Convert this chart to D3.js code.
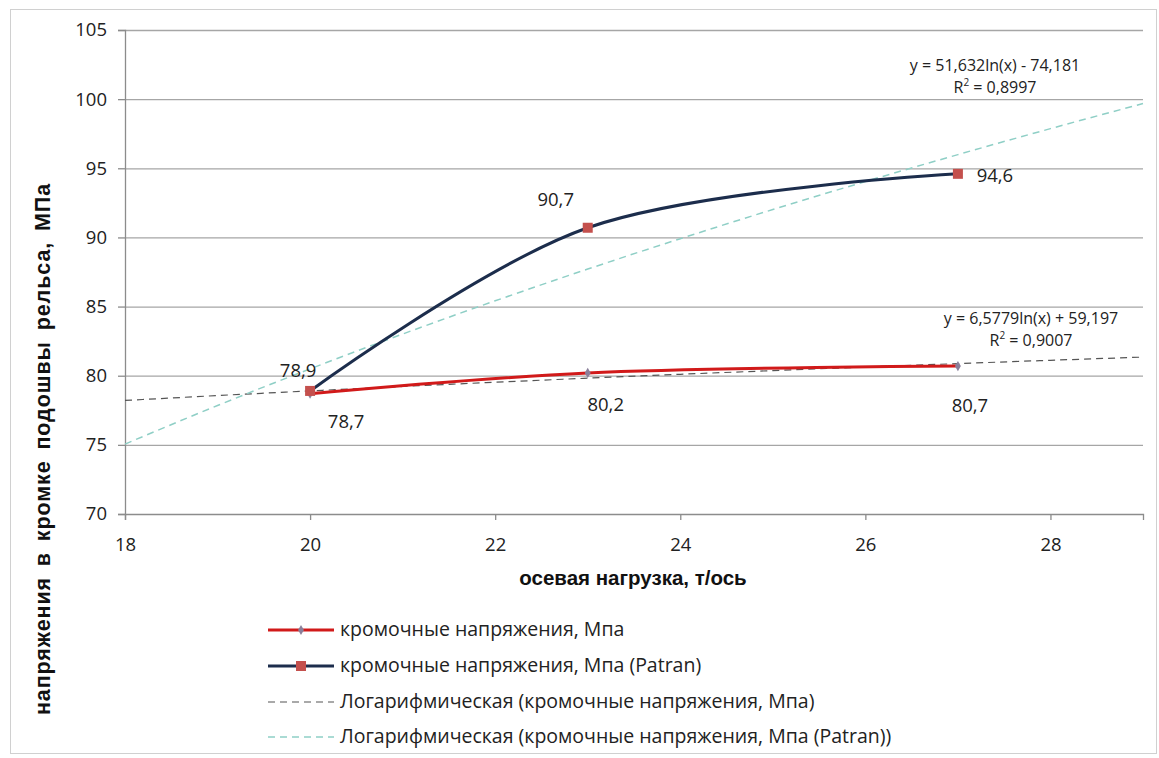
<!DOCTYPE html>
<html><head><meta charset="utf-8">
<script src="https://cdn.jsdelivr.net/npm/d3@7"></script>
<style>body{margin:0;background:#fff}svg{display:block}</style>
</head><body><svg id="c" width="1159" height="758"></svg>
<script>
const loads = [20, 23, 27];
const edgeStress = [78.7, 80.2, 80.7];
const edgeStressPatran = [78.9, 90.7, 94.6];
const xTicks = [18, 20, 22, 24, 26, 28];
const yTicks = [70, 75, 80, 85, 90, 95, 100, 105];
const trendX = [18, 19, 20, 21, 22, 23, 24, 25, 26, 27, 28, 29];
const trend1 = {a: 6.5779, b: 59.197};
const trend2 = {a: 51.632, b: -74.181};
const eq1 = ["y = 6,5779ln(x) + 59,197", "R² = 0,9007"];
const eq2 = ["y = 51,632ln(x) - 74,181", "R² = 0,8997"];
const legendLabels = ["кромочные напряжения, Мпа", "кромочные напряжения, Мпа (Patran)",
  "Логарифмическая (кромочные напряжения, Мпа)", "Логарифмическая (кромочные напряжения, Мпа (Patran))"];

const svg = d3.select("#c");
const font = "'Open Sans', 'Noto Sans', sans-serif";
svg.append("rect").attr("x",10.5).attr("y",9.5).attr("width",1146).attr("height",744)
  .attr("fill","#fff").attr("stroke","#d0d0d0");

const x = d3.scaleLinear().domain([18, 29]).range([125, 1143]);
const y = d3.scaleLinear().domain([70, 105]).range([514, 30]);

// grid
svg.append("g").selectAll("line").data(yTicks.filter(d=>d>70)).join("line")
  .attr("x1", x(18)).attr("x2", x(29)).attr("y1", d=>y(d)+0.5).attr("y2", d=>y(d)+0.5)
  .attr("stroke","#a6a6a6").attr("stroke-width",1.3);

const gy = svg.append("g").attr("transform",`translate(${x(18)},0)`)
  .call(d3.axisLeft(y).tickValues(yTicks).tickSize(7).tickPadding(11));
const gx = svg.append("g").attr("transform",`translate(0,${y(70)})`)
  .call(d3.axisBottom(x).tickValues(xTicks).tickSize(6).tickPadding(18));
[gx, gy].forEach(g=>{
  g.selectAll("path,line").attr("stroke","#8c8c8c").attr("stroke-width",1.3);
  g.selectAll("text").attr("font-family",font).attr("font-size",18.5).attr("fill","#222");
});

// trendlines
const tl = (c)=> d3.line().x(d=>x(d)).y(d=>y(c.a*Math.log(d)+c.b)).curve(d3.curveMonotoneX);
svg.append("path").attr("d", tl(trend1)(trendX)).attr("fill","none")
  .attr("stroke","#555").attr("stroke-width",1.2).attr("stroke-dasharray","7,5");
svg.append("path").attr("d", tl(trend2)(trendX)).attr("fill","none")
  .attr("stroke","#8fcfc6").attr("stroke-width",1.5).attr("stroke-dasharray","7,5");

// series
const line = d3.line().x(d=>x(d[0])).y(d=>y(d[1])).curve(d3.curveCatmullRom.alpha(0.5));
const s1 = loads.map((l,i)=>[l, edgeStress[i]]);
const s2 = loads.map((l,i)=>[l, edgeStressPatran[i]]);
svg.append("path").attr("d", line(s2)).attr("fill","none").attr("stroke","#1c2d4c").attr("stroke-width",3);
svg.append("path").attr("d", line(s1)).attr("fill","none").attr("stroke","#d11a1a").attr("stroke-width",3);
svg.append("g").selectAll("path").data(s1).join("path")
  .attr("d", d3.symbol(d3.symbolDiamond, 30)).attr("transform", d=>`translate(${x(d[0])},${y(d[1])})`)
  .attr("fill","#8a7f9a");
svg.append("g").selectAll("rect").data(s2).join("rect")
  .attr("x", d=>x(d[0])-5).attr("y", d=>y(d[1])-5).attr("width",10).attr("height",10)
  .attr("fill","#c4504d");

// data labels
const lab1Off = [[36, 34], [18, 38], [12, 46]];
const lab2Off = [[-12, -14], [-32, -22], [37, 8]];
svg.append("g").selectAll("text").data(s1).join("text")
  .attr("x",(d,i)=>x(d[0])+lab1Off[i][0]).attr("y",(d,i)=>y(d[1])+lab1Off[i][1])
  .attr("text-anchor","middle").attr("font-family",font).attr("font-size",18.5).attr("fill","#222")
  .text(d=>String(d[1]).replace(".",","));
svg.append("g").selectAll("text").data(s2).join("text")
  .attr("x",(d,i)=>x(d[0])+lab2Off[i][0]).attr("y",(d,i)=>y(d[1])+lab2Off[i][1])
  .attr("text-anchor","middle").attr("font-family",font).attr("font-size",18.5).attr("fill","#222")
  .text(d=>String(d[1]).replace(".",","));

// equations
function eq(lines, cx, cy){
  const t = svg.append("g").attr("font-family",font).attr("font-size",16).attr("fill","#222").attr("text-anchor","middle");
  lines.forEach((s,i)=>{
    const tx = t.append("text").attr("x",cx).attr("y",cy+i*22);
    if (s.startsWith("R²")) {
      tx.append("tspan").text("R");
      tx.append("tspan").attr("font-size",10).attr("dy",-7).text("2");
      tx.append("tspan").attr("dy",7).text(" = " + s.split("= ")[1]);
    } else tx.text(s);
  });
}
eq(eq2, 995, 71);
eq(eq1, 1031, 324);

// axis titles
svg.append("text").attr("x",633).attr("y",585).attr("text-anchor","middle")
  .attr("font-family","'Liberation Sans', Arial, sans-serif").attr("font-weight","bold").attr("font-size",20.5)
  .attr("fill","#111").text("осевая нагрузка, т/ось");
svg.append("text").attr("transform","translate(50,449) rotate(-90)").attr("text-anchor","middle")
  .attr("font-family","'Liberation Sans', Arial, sans-serif").attr("font-weight","bold").attr("font-size",21.5)
  .attr("letter-spacing",0.9).attr("word-spacing",4)
  .attr("fill","#111").text("напряжения в кромке подошвы рельса, МПа");

// legend
const ly = [630, 666, 702, 737];
const lg = svg.append("g");
const styles = [
  {stroke:"#d11a1a", w:3, dash:null, mark:"diamond"},
  {stroke:"#1c2d4c", w:3, dash:null, mark:"square"},
  {stroke:"#555", w:1.2, dash:"7,5", mark:null},
  {stroke:"#8fcfc6", w:1.5, dash:"7,5", mark:null}
];
legendLabels.forEach((t,i)=>{
  const st = styles[i];
  lg.append("line").attr("x1",268).attr("x2",334).attr("y1",ly[i]).attr("y2",ly[i])
    .attr("stroke",st.stroke).attr("stroke-width",st.w).attr("stroke-dasharray",st.dash);
  if (st.mark==="diamond") lg.append("path").attr("d",d3.symbol(d3.symbolDiamond,30)())
    .attr("transform",`translate(301,${ly[i]})`).attr("fill","#8a7f9a");
  if (st.mark==="square") lg.append("rect").attr("x",296).attr("y",ly[i]-5).attr("width",10).attr("height",10).attr("fill","#c4504d");
  lg.append("text").attr("x",340).attr("y",ly[i]+6).attr("font-family",font).attr("font-size",19.5)
    .attr("fill","#222").text(t);
});
</script></body></html>
